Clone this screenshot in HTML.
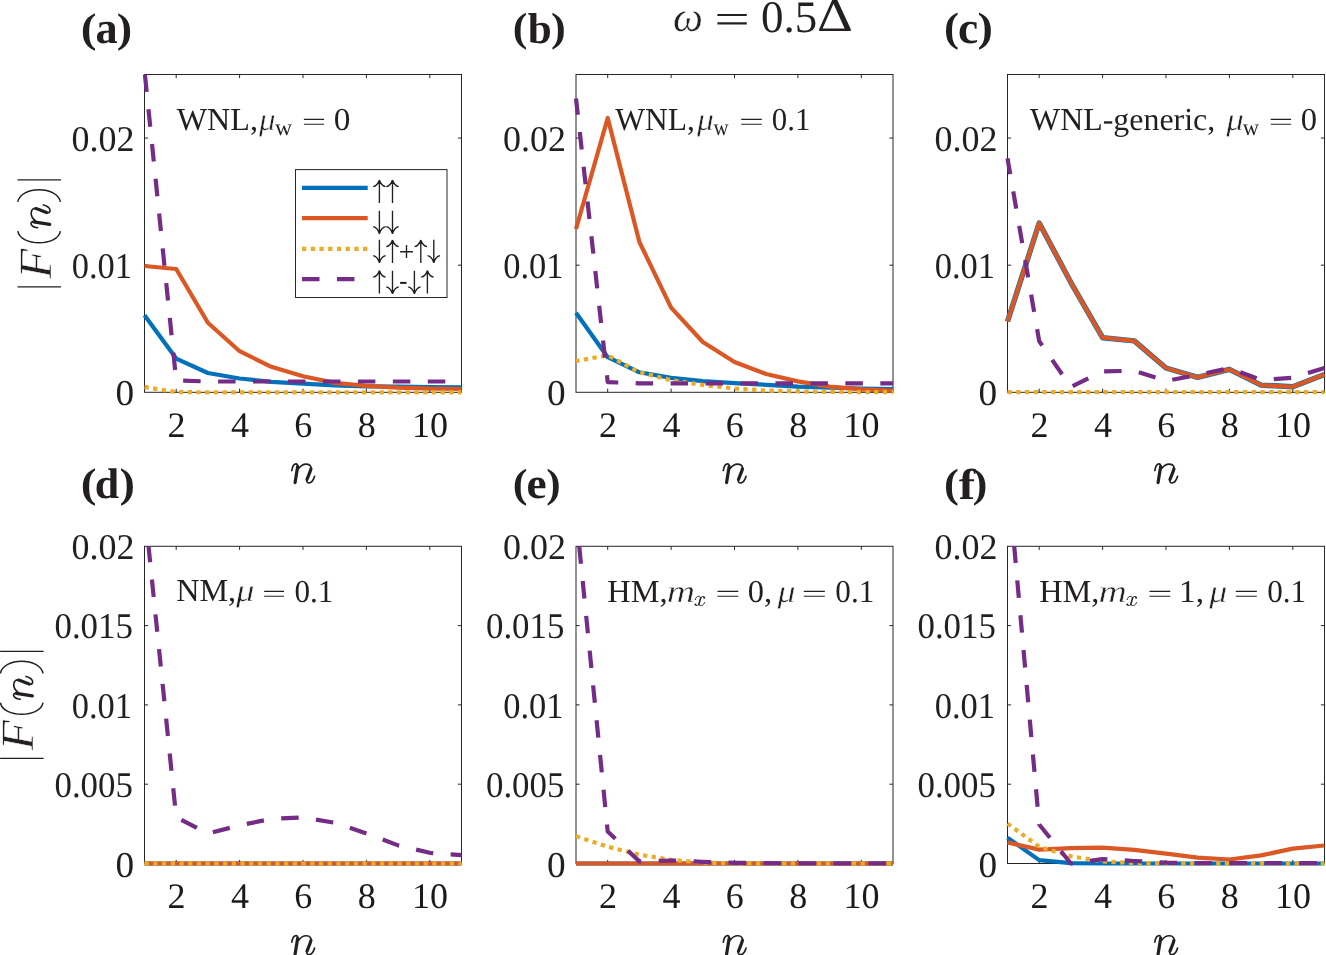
<!DOCTYPE html>
<html><head><meta charset="utf-8"><style>
html,body{margin:0;padding:0;background:#fff;}
body{width:1326px;height:955px;overflow:hidden;}
svg{display:block;will-change:transform;}
text{font-family:"Liberation Serif",serif;font-kerning:none;fill:#231f20;}
.tk{font-size:36px;fill:#1a1a1a;}
</style></head><body>
<svg width="1326" height="955" viewBox="0 0 1326 955" text-rendering="geometricPrecision">
<rect width="1326" height="955" fill="#fff"/>
<rect x="144.50" y="74.50" width="317.00" height="317.80" fill="none" stroke="#262626" stroke-width="1"/>
<line x1="176.20" y1="392.30" x2="176.20" y2="388.70" stroke="#262626" stroke-width="1"/>
<line x1="176.20" y1="74.50" x2="176.20" y2="78.10" stroke="#262626" stroke-width="1"/>
<text x="176.50" y="436.90" class="tk" text-anchor="middle">2</text>
<line x1="239.60" y1="392.30" x2="239.60" y2="388.70" stroke="#262626" stroke-width="1"/>
<line x1="239.60" y1="74.50" x2="239.60" y2="78.10" stroke="#262626" stroke-width="1"/>
<text x="239.90" y="436.90" class="tk" text-anchor="middle">4</text>
<line x1="303.00" y1="392.30" x2="303.00" y2="388.70" stroke="#262626" stroke-width="1"/>
<line x1="303.00" y1="74.50" x2="303.00" y2="78.10" stroke="#262626" stroke-width="1"/>
<text x="303.30" y="436.90" class="tk" text-anchor="middle">6</text>
<line x1="366.40" y1="392.30" x2="366.40" y2="388.70" stroke="#262626" stroke-width="1"/>
<line x1="366.40" y1="74.50" x2="366.40" y2="78.10" stroke="#262626" stroke-width="1"/>
<text x="366.70" y="436.90" class="tk" text-anchor="middle">8</text>
<line x1="429.80" y1="392.30" x2="429.80" y2="388.70" stroke="#262626" stroke-width="1"/>
<line x1="429.80" y1="74.50" x2="429.80" y2="78.10" stroke="#262626" stroke-width="1"/>
<text x="430.10" y="436.90" class="tk" text-anchor="middle">10</text>
<text transform="matrix(1.0355 0 0 1.0126 115.58 405.34)" font-size="36" fill="#231f20">0</text>
<line x1="144.50" y1="265.18" x2="148.10" y2="265.18" stroke="#262626" stroke-width="1"/>
<line x1="461.50" y1="265.18" x2="457.90" y2="265.18" stroke="#262626" stroke-width="1"/>
<text transform="matrix(0.9568 0 0 1.0061 71.79 278.07)" font-size="36" fill="#231f20">0.01</text>
<line x1="144.50" y1="138.06" x2="148.10" y2="138.06" stroke="#262626" stroke-width="1"/>
<line x1="461.50" y1="138.06" x2="457.90" y2="138.06" stroke="#262626" stroke-width="1"/>
<text transform="matrix(0.9993 0 0 1.0061 71.53 150.95)" font-size="36" fill="#231f20">0.02</text>
<polyline points="144.50,315.30 176.20,358.60 207.90,373.00 239.60,378.50 271.30,381.80 303.00,383.60 334.70,385.40 366.40,386.30 398.10,386.70 429.80,387.00 461.50,387.30" stroke="#0071BA" stroke-width="4.20" fill="none" stroke-linejoin="round"/>
<polyline points="144.50,266.00 176.20,269.00 207.90,322.80 239.60,351.20 271.30,366.80 303.00,376.20 334.70,382.90 366.40,385.90 398.10,387.70 429.80,388.60 461.50,389.00" stroke="#DB5724" stroke-width="4.20" fill="none" stroke-linejoin="round"/>
<polyline points="144.50,387.00 176.20,392.10 207.90,392.30 239.60,392.30 271.30,392.30 303.00,392.30 334.70,392.30 366.40,392.30 398.10,392.30 429.80,392.30 461.50,392.30" stroke="#ECAD26" stroke-width="4.20" fill="none" stroke-dasharray="4.3 4.42" stroke-linejoin="round"/>
<polyline points="144.91,74.50 176.20,380.50 207.90,381.50 239.60,381.50 271.30,381.50 303.00,381.50 334.70,381.50 366.40,381.50 398.10,381.50 429.80,381.50 461.50,381.50" stroke="#742C86" stroke-width="4.20" fill="none" stroke-dasharray="17.5 17.45" stroke-linejoin="round"/>
<g transform="translate(291.00,463.30)"><path d="M0.79 7.23 C1.26 4.24 2.36 0.94 4.71 0.63 C6.44 0.47 6.91 2.04 6.60 3.77 M7.70 5.18 C9.74 2.36 12.57 0.63 15.55 0.79 C19.16 0.94 20.58 3.30 19.95 5.81 M15.96 16.18 C15.24 18.69 16.65 19.79 18.38 19.64 C20.74 19.32 22.62 16.49 23.56 13.04" stroke="#231f20" stroke-width="1.65" fill="none" stroke-linecap="round"/><path d="M6.66 3.30 L4.08 19.32 M19.95 5.50 C19.16 8.95 16.97 13.35 15.96 16.18" stroke="#231f20" stroke-width="3.2" fill="none" stroke-linecap="round"/></g>
<rect x="576.00" y="74.50" width="317.00" height="317.80" fill="none" stroke="#262626" stroke-width="1"/>
<line x1="607.70" y1="392.30" x2="607.70" y2="388.70" stroke="#262626" stroke-width="1"/>
<line x1="607.70" y1="74.50" x2="607.70" y2="78.10" stroke="#262626" stroke-width="1"/>
<text x="608.00" y="436.90" class="tk" text-anchor="middle">2</text>
<line x1="671.10" y1="392.30" x2="671.10" y2="388.70" stroke="#262626" stroke-width="1"/>
<line x1="671.10" y1="74.50" x2="671.10" y2="78.10" stroke="#262626" stroke-width="1"/>
<text x="671.40" y="436.90" class="tk" text-anchor="middle">4</text>
<line x1="734.50" y1="392.30" x2="734.50" y2="388.70" stroke="#262626" stroke-width="1"/>
<line x1="734.50" y1="74.50" x2="734.50" y2="78.10" stroke="#262626" stroke-width="1"/>
<text x="734.80" y="436.90" class="tk" text-anchor="middle">6</text>
<line x1="797.90" y1="392.30" x2="797.90" y2="388.70" stroke="#262626" stroke-width="1"/>
<line x1="797.90" y1="74.50" x2="797.90" y2="78.10" stroke="#262626" stroke-width="1"/>
<text x="798.20" y="436.90" class="tk" text-anchor="middle">8</text>
<line x1="861.30" y1="392.30" x2="861.30" y2="388.70" stroke="#262626" stroke-width="1"/>
<line x1="861.30" y1="74.50" x2="861.30" y2="78.10" stroke="#262626" stroke-width="1"/>
<text x="861.60" y="436.90" class="tk" text-anchor="middle">10</text>
<text transform="matrix(1.0355 0 0 1.0126 547.08 405.34)" font-size="36" fill="#231f20">0</text>
<line x1="576.00" y1="265.18" x2="579.60" y2="265.18" stroke="#262626" stroke-width="1"/>
<line x1="893.00" y1="265.18" x2="889.40" y2="265.18" stroke="#262626" stroke-width="1"/>
<text transform="matrix(0.9568 0 0 1.0061 503.29 278.07)" font-size="36" fill="#231f20">0.01</text>
<line x1="576.00" y1="138.06" x2="579.60" y2="138.06" stroke="#262626" stroke-width="1"/>
<line x1="893.00" y1="138.06" x2="889.40" y2="138.06" stroke="#262626" stroke-width="1"/>
<text transform="matrix(0.9993 0 0 1.0061 503.03 150.95)" font-size="36" fill="#231f20">0.02</text>
<polyline points="576.00,312.70 607.70,357.20 639.40,372.30 671.10,377.90 702.80,381.10 734.50,383.10 766.20,384.80 797.90,386.60 829.60,387.60 861.30,388.50 893.00,389.20" stroke="#0071BA" stroke-width="4.20" fill="none" stroke-linejoin="round"/>
<polyline points="576.00,229.00 607.70,118.00 639.40,242.00 671.10,307.60 702.80,342.00 734.50,362.00 766.20,374.00 797.90,381.40 829.60,386.60 861.30,389.30 893.00,390.70" stroke="#DB5724" stroke-width="4.20" fill="none" stroke-linejoin="round"/>
<polyline points="576.00,361.00 607.70,355.30 639.40,372.30 671.10,380.20 702.80,384.90 734.50,388.50 766.20,390.60 797.90,391.50 829.60,391.90 861.30,392.10 893.00,392.20" stroke="#ECAD26" stroke-width="4.20" fill="none" stroke-dasharray="4.3 4.42" stroke-linejoin="round" stroke-dashoffset="0.70"/>
<polyline points="576.00,98.50 607.70,382.10 639.40,383.30 671.10,383.30 702.80,383.30 734.50,383.30 766.20,383.30 797.90,383.30 829.60,383.30 861.30,383.30 893.00,383.30" stroke="#742C86" stroke-width="4.20" fill="none" stroke-dasharray="17.5 17.45" stroke-linejoin="round" stroke-dashoffset="1.20"/>
<g transform="translate(722.50,463.30)"><path d="M0.79 7.23 C1.26 4.24 2.36 0.94 4.71 0.63 C6.44 0.47 6.91 2.04 6.60 3.77 M7.70 5.18 C9.74 2.36 12.57 0.63 15.55 0.79 C19.16 0.94 20.58 3.30 19.95 5.81 M15.96 16.18 C15.24 18.69 16.65 19.79 18.38 19.64 C20.74 19.32 22.62 16.49 23.56 13.04" stroke="#231f20" stroke-width="1.65" fill="none" stroke-linecap="round"/><path d="M6.66 3.30 L4.08 19.32 M19.95 5.50 C19.16 8.95 16.97 13.35 15.96 16.18" stroke="#231f20" stroke-width="3.2" fill="none" stroke-linecap="round"/></g>
<rect x="1007.50" y="74.50" width="317.00" height="317.80" fill="none" stroke="#262626" stroke-width="1"/>
<line x1="1039.20" y1="392.30" x2="1039.20" y2="388.70" stroke="#262626" stroke-width="1"/>
<line x1="1039.20" y1="74.50" x2="1039.20" y2="78.10" stroke="#262626" stroke-width="1"/>
<text x="1039.50" y="436.90" class="tk" text-anchor="middle">2</text>
<line x1="1102.60" y1="392.30" x2="1102.60" y2="388.70" stroke="#262626" stroke-width="1"/>
<line x1="1102.60" y1="74.50" x2="1102.60" y2="78.10" stroke="#262626" stroke-width="1"/>
<text x="1102.90" y="436.90" class="tk" text-anchor="middle">4</text>
<line x1="1166.00" y1="392.30" x2="1166.00" y2="388.70" stroke="#262626" stroke-width="1"/>
<line x1="1166.00" y1="74.50" x2="1166.00" y2="78.10" stroke="#262626" stroke-width="1"/>
<text x="1166.30" y="436.90" class="tk" text-anchor="middle">6</text>
<line x1="1229.40" y1="392.30" x2="1229.40" y2="388.70" stroke="#262626" stroke-width="1"/>
<line x1="1229.40" y1="74.50" x2="1229.40" y2="78.10" stroke="#262626" stroke-width="1"/>
<text x="1229.70" y="436.90" class="tk" text-anchor="middle">8</text>
<line x1="1292.80" y1="392.30" x2="1292.80" y2="388.70" stroke="#262626" stroke-width="1"/>
<line x1="1292.80" y1="74.50" x2="1292.80" y2="78.10" stroke="#262626" stroke-width="1"/>
<text x="1293.10" y="436.90" class="tk" text-anchor="middle">10</text>
<text transform="matrix(1.0355 0 0 1.0126 978.58 405.34)" font-size="36" fill="#231f20">0</text>
<line x1="1007.50" y1="265.18" x2="1011.10" y2="265.18" stroke="#262626" stroke-width="1"/>
<line x1="1324.50" y1="265.18" x2="1320.90" y2="265.18" stroke="#262626" stroke-width="1"/>
<text transform="matrix(0.9568 0 0 1.0061 934.79 278.07)" font-size="36" fill="#231f20">0.01</text>
<line x1="1007.50" y1="138.06" x2="1011.10" y2="138.06" stroke="#262626" stroke-width="1"/>
<line x1="1324.50" y1="138.06" x2="1320.90" y2="138.06" stroke="#262626" stroke-width="1"/>
<text transform="matrix(0.9993 0 0 1.0061 934.53 150.95)" font-size="36" fill="#231f20">0.02</text>
<polyline points="1007.50,321.50 1039.20,223.00 1070.90,282.60 1102.60,337.70 1134.30,340.90 1166.00,368.00 1197.70,377.40 1229.40,369.30 1261.10,385.10 1292.80,386.80 1324.50,374.50" stroke="#0071BA" stroke-width="5.40" fill="none" stroke-linejoin="round"/>
<polyline points="1007.50,321.50 1039.20,223.00 1070.90,282.60 1102.60,337.70 1134.30,340.90 1166.00,368.00 1197.70,377.40 1229.40,369.30 1261.10,385.10 1292.80,386.80 1324.50,374.50" stroke="#DB5724" stroke-width="4.20" fill="none" stroke-linejoin="round"/>
<polyline points="1007.50,392.20 1039.20,392.20 1070.90,392.20 1102.60,392.20 1134.30,392.20 1166.00,392.20 1197.70,392.20 1229.40,392.20 1261.10,392.20 1292.80,392.20 1324.50,392.20" stroke="#ECAD26" stroke-width="4.20" fill="none" stroke-dasharray="4.3 4.42" stroke-linejoin="round"/>
<polyline points="1007.50,158.30 1039.20,341.10 1070.90,387.00 1102.60,371.30 1134.30,370.80 1166.00,381.00 1197.70,374.90 1229.40,368.10 1261.10,380.00 1292.80,377.70 1324.50,367.90" stroke="#742C86" stroke-width="4.20" fill="none" stroke-dasharray="17.5 17.45" stroke-linejoin="round" stroke-dashoffset="1.40"/>
<g transform="translate(1154.00,463.30)"><path d="M0.79 7.23 C1.26 4.24 2.36 0.94 4.71 0.63 C6.44 0.47 6.91 2.04 6.60 3.77 M7.70 5.18 C9.74 2.36 12.57 0.63 15.55 0.79 C19.16 0.94 20.58 3.30 19.95 5.81 M15.96 16.18 C15.24 18.69 16.65 19.79 18.38 19.64 C20.74 19.32 22.62 16.49 23.56 13.04" stroke="#231f20" stroke-width="1.65" fill="none" stroke-linecap="round"/><path d="M6.66 3.30 L4.08 19.32 M19.95 5.50 C19.16 8.95 16.97 13.35 15.96 16.18" stroke="#231f20" stroke-width="3.2" fill="none" stroke-linecap="round"/></g>
<rect x="144.50" y="546.30" width="317.00" height="317.20" fill="none" stroke="#262626" stroke-width="1"/>
<line x1="176.20" y1="863.50" x2="176.20" y2="859.90" stroke="#262626" stroke-width="1"/>
<line x1="176.20" y1="546.30" x2="176.20" y2="549.90" stroke="#262626" stroke-width="1"/>
<text x="176.50" y="908.10" class="tk" text-anchor="middle">2</text>
<line x1="239.60" y1="863.50" x2="239.60" y2="859.90" stroke="#262626" stroke-width="1"/>
<line x1="239.60" y1="546.30" x2="239.60" y2="549.90" stroke="#262626" stroke-width="1"/>
<text x="239.90" y="908.10" class="tk" text-anchor="middle">4</text>
<line x1="303.00" y1="863.50" x2="303.00" y2="859.90" stroke="#262626" stroke-width="1"/>
<line x1="303.00" y1="546.30" x2="303.00" y2="549.90" stroke="#262626" stroke-width="1"/>
<text x="303.30" y="908.10" class="tk" text-anchor="middle">6</text>
<line x1="366.40" y1="863.50" x2="366.40" y2="859.90" stroke="#262626" stroke-width="1"/>
<line x1="366.40" y1="546.30" x2="366.40" y2="549.90" stroke="#262626" stroke-width="1"/>
<text x="366.70" y="908.10" class="tk" text-anchor="middle">8</text>
<line x1="429.80" y1="863.50" x2="429.80" y2="859.90" stroke="#262626" stroke-width="1"/>
<line x1="429.80" y1="546.30" x2="429.80" y2="549.90" stroke="#262626" stroke-width="1"/>
<text x="430.10" y="908.10" class="tk" text-anchor="middle">10</text>
<text transform="matrix(1.0355 0 0 1.0126 115.58 876.54)" font-size="36" fill="#231f20">0</text>
<line x1="144.50" y1="784.20" x2="148.10" y2="784.20" stroke="#262626" stroke-width="1"/>
<line x1="461.50" y1="784.20" x2="457.90" y2="784.20" stroke="#262626" stroke-width="1"/>
<text transform="matrix(0.9678 0 0 1.0061 54.47 797.09)" font-size="36" fill="#231f20">0.005</text>
<line x1="144.50" y1="704.90" x2="148.10" y2="704.90" stroke="#262626" stroke-width="1"/>
<line x1="461.50" y1="704.90" x2="457.90" y2="704.90" stroke="#262626" stroke-width="1"/>
<text transform="matrix(0.9568 0 0 1.0061 71.79 717.79)" font-size="36" fill="#231f20">0.01</text>
<line x1="144.50" y1="625.60" x2="148.10" y2="625.60" stroke="#262626" stroke-width="1"/>
<line x1="461.50" y1="625.60" x2="457.90" y2="625.60" stroke="#262626" stroke-width="1"/>
<text transform="matrix(0.9678 0 0 1.0061 54.47 638.49)" font-size="36" fill="#231f20">0.015</text>
<text transform="matrix(0.9993 0 0 1.0061 71.53 559.19)" font-size="36" fill="#231f20">0.02</text>
<polyline points="144.50,863.50 176.20,863.50 207.90,863.50 239.60,863.50 271.30,863.50 303.00,863.50 334.70,863.50 366.40,863.50 398.10,863.50 429.80,863.50 461.50,863.50" stroke="#0071BA" stroke-width="4.20" fill="none" stroke-linejoin="round"/>
<polyline points="144.50,863.50 176.20,863.50 207.90,863.50 239.60,863.50 271.30,863.50 303.00,863.50 334.70,863.50 366.40,863.50 398.10,863.50 429.80,863.50 461.50,863.50" stroke="#DB5724" stroke-width="4.20" fill="none" stroke-linejoin="round"/>
<polyline points="144.50,863.50 176.20,863.50 207.90,863.50 239.60,863.50 271.30,863.50 303.00,863.50 334.70,863.50 366.40,863.50 398.10,863.50 429.80,863.50 461.50,863.50" stroke="#ECAD26" stroke-width="4.20" fill="none" stroke-dasharray="4.3 4.42" stroke-linejoin="round"/>
<polyline points="148.52,546.30 176.20,817.20 207.90,833.50 239.60,825.40 271.30,818.90 303.00,817.50 334.70,822.70 366.40,833.40 398.10,845.40 429.80,852.80 461.50,855.10" stroke="#742C86" stroke-width="4.20" fill="none" stroke-dasharray="17.5 17.45" stroke-linejoin="round" stroke-dashoffset="1.50"/>
<g transform="translate(291.00,935.00)"><path d="M0.79 7.23 C1.26 4.24 2.36 0.94 4.71 0.63 C6.44 0.47 6.91 2.04 6.60 3.77 M7.70 5.18 C9.74 2.36 12.57 0.63 15.55 0.79 C19.16 0.94 20.58 3.30 19.95 5.81 M15.96 16.18 C15.24 18.69 16.65 19.79 18.38 19.64 C20.74 19.32 22.62 16.49 23.56 13.04" stroke="#231f20" stroke-width="1.65" fill="none" stroke-linecap="round"/><path d="M6.66 3.30 L4.08 19.32 M19.95 5.50 C19.16 8.95 16.97 13.35 15.96 16.18" stroke="#231f20" stroke-width="3.2" fill="none" stroke-linecap="round"/></g>
<rect x="576.00" y="546.30" width="317.00" height="317.20" fill="none" stroke="#262626" stroke-width="1"/>
<line x1="607.70" y1="863.50" x2="607.70" y2="859.90" stroke="#262626" stroke-width="1"/>
<line x1="607.70" y1="546.30" x2="607.70" y2="549.90" stroke="#262626" stroke-width="1"/>
<text x="608.00" y="908.10" class="tk" text-anchor="middle">2</text>
<line x1="671.10" y1="863.50" x2="671.10" y2="859.90" stroke="#262626" stroke-width="1"/>
<line x1="671.10" y1="546.30" x2="671.10" y2="549.90" stroke="#262626" stroke-width="1"/>
<text x="671.40" y="908.10" class="tk" text-anchor="middle">4</text>
<line x1="734.50" y1="863.50" x2="734.50" y2="859.90" stroke="#262626" stroke-width="1"/>
<line x1="734.50" y1="546.30" x2="734.50" y2="549.90" stroke="#262626" stroke-width="1"/>
<text x="734.80" y="908.10" class="tk" text-anchor="middle">6</text>
<line x1="797.90" y1="863.50" x2="797.90" y2="859.90" stroke="#262626" stroke-width="1"/>
<line x1="797.90" y1="546.30" x2="797.90" y2="549.90" stroke="#262626" stroke-width="1"/>
<text x="798.20" y="908.10" class="tk" text-anchor="middle">8</text>
<line x1="861.30" y1="863.50" x2="861.30" y2="859.90" stroke="#262626" stroke-width="1"/>
<line x1="861.30" y1="546.30" x2="861.30" y2="549.90" stroke="#262626" stroke-width="1"/>
<text x="861.60" y="908.10" class="tk" text-anchor="middle">10</text>
<text transform="matrix(1.0355 0 0 1.0126 547.08 876.54)" font-size="36" fill="#231f20">0</text>
<line x1="576.00" y1="784.20" x2="579.60" y2="784.20" stroke="#262626" stroke-width="1"/>
<line x1="893.00" y1="784.20" x2="889.40" y2="784.20" stroke="#262626" stroke-width="1"/>
<text transform="matrix(0.9678 0 0 1.0061 485.97 797.09)" font-size="36" fill="#231f20">0.005</text>
<line x1="576.00" y1="704.90" x2="579.60" y2="704.90" stroke="#262626" stroke-width="1"/>
<line x1="893.00" y1="704.90" x2="889.40" y2="704.90" stroke="#262626" stroke-width="1"/>
<text transform="matrix(0.9568 0 0 1.0061 503.29 717.79)" font-size="36" fill="#231f20">0.01</text>
<line x1="576.00" y1="625.60" x2="579.60" y2="625.60" stroke="#262626" stroke-width="1"/>
<line x1="893.00" y1="625.60" x2="889.40" y2="625.60" stroke="#262626" stroke-width="1"/>
<text transform="matrix(0.9678 0 0 1.0061 485.97 638.49)" font-size="36" fill="#231f20">0.015</text>
<text transform="matrix(0.9993 0 0 1.0061 503.03 559.19)" font-size="36" fill="#231f20">0.02</text>
<polyline points="576.00,863.50 607.70,863.50 639.40,863.50 671.10,863.50 702.80,863.50 734.50,863.50 766.20,863.50 797.90,863.50 829.60,863.50 861.30,863.50 893.00,863.50" stroke="#0071BA" stroke-width="4.20" fill="none" stroke-linejoin="round"/>
<polyline points="576.00,863.50 607.70,863.50 639.40,863.50 671.10,863.50 702.80,863.50 734.50,863.50 766.20,863.50 797.90,863.50 829.60,863.50 861.30,863.50 893.00,863.50" stroke="#DB5724" stroke-width="4.20" fill="none" stroke-linejoin="round"/>
<polyline points="576.00,836.20 607.70,846.70 639.40,854.70 671.10,859.80 702.80,862.60 734.50,863.30 766.20,863.50 797.90,863.50 829.60,863.50 861.30,863.50 893.00,863.50" stroke="#ECAD26" stroke-width="4.20" fill="none" stroke-dasharray="4.3 4.42" stroke-linejoin="round"/>
<polyline points="579.22,546.30 607.70,831.50 639.40,861.40 671.10,860.50 702.80,861.80 734.50,862.80 766.20,863.20 797.90,863.30 829.60,863.30 861.30,863.30 893.00,863.30" stroke="#742C86" stroke-width="4.20" fill="none" stroke-dasharray="17.5 17.45" stroke-linejoin="round"/>
<g transform="translate(722.50,935.00)"><path d="M0.79 7.23 C1.26 4.24 2.36 0.94 4.71 0.63 C6.44 0.47 6.91 2.04 6.60 3.77 M7.70 5.18 C9.74 2.36 12.57 0.63 15.55 0.79 C19.16 0.94 20.58 3.30 19.95 5.81 M15.96 16.18 C15.24 18.69 16.65 19.79 18.38 19.64 C20.74 19.32 22.62 16.49 23.56 13.04" stroke="#231f20" stroke-width="1.65" fill="none" stroke-linecap="round"/><path d="M6.66 3.30 L4.08 19.32 M19.95 5.50 C19.16 8.95 16.97 13.35 15.96 16.18" stroke="#231f20" stroke-width="3.2" fill="none" stroke-linecap="round"/></g>
<rect x="1007.50" y="546.30" width="317.00" height="317.20" fill="none" stroke="#262626" stroke-width="1"/>
<line x1="1039.20" y1="863.50" x2="1039.20" y2="859.90" stroke="#262626" stroke-width="1"/>
<line x1="1039.20" y1="546.30" x2="1039.20" y2="549.90" stroke="#262626" stroke-width="1"/>
<text x="1039.50" y="908.10" class="tk" text-anchor="middle">2</text>
<line x1="1102.60" y1="863.50" x2="1102.60" y2="859.90" stroke="#262626" stroke-width="1"/>
<line x1="1102.60" y1="546.30" x2="1102.60" y2="549.90" stroke="#262626" stroke-width="1"/>
<text x="1102.90" y="908.10" class="tk" text-anchor="middle">4</text>
<line x1="1166.00" y1="863.50" x2="1166.00" y2="859.90" stroke="#262626" stroke-width="1"/>
<line x1="1166.00" y1="546.30" x2="1166.00" y2="549.90" stroke="#262626" stroke-width="1"/>
<text x="1166.30" y="908.10" class="tk" text-anchor="middle">6</text>
<line x1="1229.40" y1="863.50" x2="1229.40" y2="859.90" stroke="#262626" stroke-width="1"/>
<line x1="1229.40" y1="546.30" x2="1229.40" y2="549.90" stroke="#262626" stroke-width="1"/>
<text x="1229.70" y="908.10" class="tk" text-anchor="middle">8</text>
<line x1="1292.80" y1="863.50" x2="1292.80" y2="859.90" stroke="#262626" stroke-width="1"/>
<line x1="1292.80" y1="546.30" x2="1292.80" y2="549.90" stroke="#262626" stroke-width="1"/>
<text x="1293.10" y="908.10" class="tk" text-anchor="middle">10</text>
<text transform="matrix(1.0355 0 0 1.0126 978.58 876.54)" font-size="36" fill="#231f20">0</text>
<line x1="1007.50" y1="784.20" x2="1011.10" y2="784.20" stroke="#262626" stroke-width="1"/>
<line x1="1324.50" y1="784.20" x2="1320.90" y2="784.20" stroke="#262626" stroke-width="1"/>
<text transform="matrix(0.9678 0 0 1.0061 917.47 797.09)" font-size="36" fill="#231f20">0.005</text>
<line x1="1007.50" y1="704.90" x2="1011.10" y2="704.90" stroke="#262626" stroke-width="1"/>
<line x1="1324.50" y1="704.90" x2="1320.90" y2="704.90" stroke="#262626" stroke-width="1"/>
<text transform="matrix(0.9568 0 0 1.0061 934.79 717.79)" font-size="36" fill="#231f20">0.01</text>
<line x1="1007.50" y1="625.60" x2="1011.10" y2="625.60" stroke="#262626" stroke-width="1"/>
<line x1="1324.50" y1="625.60" x2="1320.90" y2="625.60" stroke="#262626" stroke-width="1"/>
<text transform="matrix(0.9678 0 0 1.0061 917.47 638.49)" font-size="36" fill="#231f20">0.015</text>
<text transform="matrix(0.9993 0 0 1.0061 934.53 559.19)" font-size="36" fill="#231f20">0.02</text>
<polyline points="1007.50,837.70 1039.20,860.10 1070.90,863.10 1102.60,863.50 1134.30,863.50 1166.00,863.50 1197.70,863.50 1229.40,863.50 1261.10,863.50 1292.80,863.50 1324.50,863.50" stroke="#0071BA" stroke-width="4.20" fill="none" stroke-linejoin="round"/>
<polyline points="1007.50,842.40 1039.20,849.60 1070.90,848.20 1102.60,847.60 1134.30,849.90 1166.00,853.60 1197.70,857.70 1229.40,859.50 1261.10,855.40 1292.80,848.60 1324.50,845.50" stroke="#DB5724" stroke-width="4.20" fill="none" stroke-linejoin="round"/>
<polyline points="1007.50,823.60 1039.20,846.70 1070.90,856.30 1102.60,861.40 1134.30,863.00 1166.00,863.40 1197.70,863.50 1229.40,863.50 1261.10,863.50 1292.80,863.50 1324.50,863.50" stroke="#ECAD26" stroke-width="4.20" fill="none" stroke-dasharray="4.3 4.42" stroke-linejoin="round"/>
<polyline points="1014.20,546.30 1039.20,824.50 1070.90,863.50 1102.60,859.20 1134.30,861.00 1166.00,862.70 1197.70,863.10 1229.40,863.10 1261.10,863.10 1292.80,863.10 1324.50,863.10" stroke="#742C86" stroke-width="4.20" fill="none" stroke-dasharray="17.5 17.45" stroke-linejoin="round" stroke-dashoffset="0.70"/>
<g transform="translate(1154.00,935.00)"><path d="M0.79 7.23 C1.26 4.24 2.36 0.94 4.71 0.63 C6.44 0.47 6.91 2.04 6.60 3.77 M7.70 5.18 C9.74 2.36 12.57 0.63 15.55 0.79 C19.16 0.94 20.58 3.30 19.95 5.81 M15.96 16.18 C15.24 18.69 16.65 19.79 18.38 19.64 C20.74 19.32 22.62 16.49 23.56 13.04" stroke="#231f20" stroke-width="1.65" fill="none" stroke-linecap="round"/><path d="M6.66 3.30 L4.08 19.32 M19.95 5.50 C19.16 8.95 16.97 13.35 15.96 16.18" stroke="#231f20" stroke-width="3.2" fill="none" stroke-linecap="round"/></g>
<text transform="matrix(1.1586 0 0 1.0141 80.81 41.55)" font-size="41" font-weight="bold" fill="#231f20">(</text>
<text transform="matrix(1.0831 0 0 1.0998 95.47 43.06)" font-size="41" font-weight="bold" fill="#231f20">a</text>
<text transform="matrix(1.1301 0 0 1.0141 116.81 41.55)" font-size="41" font-weight="bold" fill="#231f20">)</text>
<text transform="matrix(1.0731 0 0 0.9953 512.87 41.21)" font-size="41" font-weight="bold" fill="#231f20">(</text>
<text transform="matrix(1.0524 0 0 1.0538 527.65 42.88)" font-size="41" font-weight="bold" fill="#231f20">b</text>
<text transform="matrix(1.0826 0 0 0.9953 551.07 41.21)" font-size="41" font-weight="bold" fill="#231f20">)</text>
<text transform="matrix(1.1016 0 0 1.0060 943.92 41.32)" font-size="41" font-weight="bold" fill="#231f20">(</text>
<text transform="matrix(1.1093 0 0 1.0965 958.05 43.08)" font-size="41" font-weight="bold" fill="#231f20">c</text>
<text transform="matrix(1.1301 0 0 1.0060 977.41 41.32)" font-size="41" font-weight="bold" fill="#231f20">)</text>
<text transform="matrix(1.1586 0 0 1.0141 80.81 497.05)" font-size="41" font-weight="bold" fill="#231f20">(</text>
<text transform="matrix(1.0735 0 0 1.0434 94.82 498.38)" font-size="41" font-weight="bold" fill="#231f20">d</text>
<text transform="matrix(1.1301 0 0 1.0141 119.41 497.05)" font-size="41" font-weight="bold" fill="#231f20">)</text>
<text transform="matrix(1.0826 0 0 0.9979 512.85 496.79)" font-size="41" font-weight="bold" fill="#231f20">(</text>
<text transform="matrix(1.1058 0 0 1.0580 526.55 498.20)" font-size="41" font-weight="bold" fill="#231f20">e</text>
<text transform="matrix(1.0541 0 0 0.9979 546.31 496.79)" font-size="41" font-weight="bold" fill="#231f20">)</text>
<text transform="matrix(1.0921 0 0 0.9979 944.03 496.79)" font-size="41" font-weight="bold" fill="#231f20">(</text>
<text transform="matrix(1.1997 0 0 1.0565 958.64 498.60)" font-size="41" font-weight="bold" fill="#231f20">f</text>
<text transform="matrix(1.0921 0 0 0.9979 972.56 496.79)" font-size="41" font-weight="bold" fill="#231f20">)</text>
<g transform="translate(0.00,0) rotate(-90)">
</g><path d="M17.50 286.80 H61.00" stroke="#231f20" stroke-width="1.35"/><g transform="translate(0.00,0) rotate(-90)">
<text stroke="#fff" stroke-width="0.5" transform="matrix(1.1136 0 0 1.0517 -278.54 50.50)" font-size="44" font-style="italic" fill="#231f20">F</text>
</g><path d="M17.80 231.20 C20.36 246.67 57.84 246.67 60.40 231.20" stroke="#231f20" stroke-width="1.45" fill="none"/><g transform="translate(0.00,0) rotate(-90)">
</g><g transform="translate(30.40,228.50) rotate(-90)"><path d="M0.79 7.23 C1.26 4.24 2.36 0.94 4.71 0.63 C6.44 0.47 6.91 2.04 6.60 3.77 M7.70 5.18 C9.74 2.36 12.57 0.63 15.55 0.79 C19.16 0.94 20.58 3.30 19.95 5.81 M15.96 16.18 C15.24 18.69 16.65 19.79 18.38 19.64 C20.74 19.32 22.62 16.49 23.56 13.04" stroke="#231f20" stroke-width="1.65" fill="none" stroke-linecap="round"/><path d="M6.66 3.30 L4.08 19.32 M19.95 5.50 C19.16 8.95 16.97 13.35 15.96 16.18" stroke="#231f20" stroke-width="3.2" fill="none" stroke-linecap="round"/></g><g transform="translate(0.00,0) rotate(-90)">
</g><path d="M17.80 202.00 C20.36 185.60 57.84 185.60 60.40 202.00" stroke="#231f20" stroke-width="1.45" fill="none"/><g transform="translate(0.00,0) rotate(-90)">
</g><path d="M17.50 179.80 H61.00" stroke="#231f20" stroke-width="1.35"/><g transform="translate(0.00,0) rotate(-90)">
</g>
<g transform="translate(-17.40,0) rotate(-90)">
</g><path d="M0.10 758.30 H43.60" stroke="#231f20" stroke-width="1.35"/><g transform="translate(-17.40,0) rotate(-90)">
<text stroke="#fff" stroke-width="0.5" transform="matrix(1.1136 0 0 1.0517 -750.04 50.50)" font-size="44" font-style="italic" fill="#231f20">F</text>
</g><path d="M0.40 702.70 C2.96 718.17 40.44 718.17 43.00 702.70" stroke="#231f20" stroke-width="1.45" fill="none"/><g transform="translate(-17.40,0) rotate(-90)">
</g><g transform="translate(13.00,700.00) rotate(-90)"><path d="M0.79 7.23 C1.26 4.24 2.36 0.94 4.71 0.63 C6.44 0.47 6.91 2.04 6.60 3.77 M7.70 5.18 C9.74 2.36 12.57 0.63 15.55 0.79 C19.16 0.94 20.58 3.30 19.95 5.81 M15.96 16.18 C15.24 18.69 16.65 19.79 18.38 19.64 C20.74 19.32 22.62 16.49 23.56 13.04" stroke="#231f20" stroke-width="1.65" fill="none" stroke-linecap="round"/><path d="M6.66 3.30 L4.08 19.32 M19.95 5.50 C19.16 8.95 16.97 13.35 15.96 16.18" stroke="#231f20" stroke-width="3.2" fill="none" stroke-linecap="round"/></g><g transform="translate(-17.40,0) rotate(-90)">
</g><path d="M0.40 673.50 C2.96 657.10 40.44 657.10 43.00 673.50" stroke="#231f20" stroke-width="1.45" fill="none"/><g transform="translate(-17.40,0) rotate(-90)">
</g><path d="M0.10 651.30 H43.60" stroke="#231f20" stroke-width="1.35"/><g transform="translate(-17.40,0) rotate(-90)">
</g>
<text transform="matrix(0.9434 0 0 0.9474 672.89 31.28)" font-size="45" font-style="italic" fill="#231f20" stroke="#fff" stroke-width="0.45">ω</text>
<text transform="matrix(1.4040 0 0 0.9244 714.15 33.41)" font-size="45" fill="#231f20">=</text>
<text transform="matrix(1.0004 0 0 1.0012 760.89 31.76)" font-size="45" fill="#231f20">0.5</text>
<text transform="matrix(1.2416 0 0 1.0402 816.97 31.20)" font-size="45" fill="#231f20">Δ</text>
<text transform="matrix(1.0049 0 0 1.0000 176.77 130.20)" font-size="32" fill="#231f20">WNL,</text>
<text transform="matrix(1.0312 0 0 1.0000 259.03 130.20)" font-size="32" font-style="italic" fill="#231f20" stroke="#fff" stroke-width="0.45">μ</text>
<text transform="matrix(1.0312 0 0 1.0000 274.88 134.90)" font-size="23" fill="#231f20">w</text>
<text transform="matrix(1.3566 0 0 0.7750 301.74 130.33)" font-size="32" fill="#231f20">=</text>
<text transform="matrix(1.0396 0 0 1.0003 333.83 130.39)" font-size="32" fill="#231f20">0</text>
<text transform="matrix(0.9846 0 0 1.0000 615.27 130.10)" font-size="32" fill="#231f20">WNL,</text>
<text transform="matrix(1.0511 0 0 1.0000 696.93 130.10)" font-size="32" font-style="italic" fill="#231f20" stroke="#fff" stroke-width="0.45">μ</text>
<text transform="matrix(0.9098 0 0 1.0000 713.48 134.90)" font-size="23" fill="#231f20">w</text>
<text transform="matrix(1.3834 0 0 0.7750 739.00 130.33)" font-size="32" fill="#231f20">=</text>
<text transform="matrix(0.9658 0 0 0.9938 771.72 130.25)" font-size="32" fill="#231f20">0.1</text>
<text transform="matrix(0.9971 0 0 1.0000 1030.07 130.00)" font-size="32" fill="#231f20">WNL-generic,</text>
<text transform="matrix(1.0977 0 0 1.0000 1226.13 130.00)" font-size="32" font-style="italic" fill="#231f20" stroke="#fff" stroke-width="0.45">μ</text>
<text transform="matrix(0.9766 0 0 1.0000 1242.78 134.90)" font-size="23" fill="#231f20">w</text>
<text transform="matrix(1.3700 0 0 0.7750 1268.62 130.33)" font-size="32" fill="#231f20">=</text>
<text transform="matrix(1.0175 0 0 1.0003 1300.86 130.39)" font-size="32" fill="#231f20">0</text>
<text transform="matrix(1.0066 0 0 1.0000 176.17 601.40)" font-size="32" fill="#231f20">NM,</text>
<text transform="matrix(1.1509 0 0 1.0000 236.04 601.40)" font-size="32" font-style="italic" fill="#231f20" stroke="#fff" stroke-width="0.45">μ</text>
<text transform="matrix(1.3364 0 0 0.7750 262.07 601.63)" font-size="32" fill="#231f20">=</text>
<text transform="matrix(0.9740 0 0 0.9938 294.41 601.55)" font-size="32" fill="#231f20">0.1</text>
<text transform="matrix(1.0119 0 0 1.0000 607.27 601.50)" font-size="32" fill="#231f20">HM,</text>
<text transform="matrix(1.2276 0 0 1.0000 666.68 601.60)" font-size="32" font-style="italic" fill="#231f20" stroke="#fff" stroke-width="0.45">m</text>
<path d="M695.26 599.56 C695.74 597.57 697.00 596.41 698.36 596.37 C699.62 596.37 700.45 596.94 700.71 597.67 M700.71 597.67 C701.50 596.62 702.76 596.31 703.91 596.48 M698.82 604.48 C698.46 605.42 697.10 605.78 696.06 605.48 M698.82 604.48 C699.30 605.52 700.45 605.78 701.61 605.52 C703.18 605.11 704.22 603.85 704.54 602.59" stroke="#231f20" stroke-width="1.0" fill="none" stroke-linecap="round"/><path d="M700.71 597.67 L698.82 604.48" stroke="#231f20" stroke-width="1.55" fill="none" stroke-linecap="round"/><circle cx="704.22" cy="597.82" r="1.05" fill="#231f20"/><circle cx="695.47" cy="604.44" r="1.05" fill="#231f20"/>
<text transform="matrix(1.3969 0 0 0.7750 715.27 601.63)" font-size="32" fill="#231f20">=</text>
<text transform="matrix(1.0161 0 0 1.0000 747.66 601.80)" font-size="32" fill="#231f20">0,</text>
<text transform="matrix(1.1243 0 0 1.0000 777.44 601.50)" font-size="32" font-style="italic" fill="#231f20" stroke="#fff" stroke-width="0.45">μ</text>
<text transform="matrix(1.4170 0 0 0.7750 801.54 601.63)" font-size="32" fill="#231f20">=</text>
<text transform="matrix(0.9740 0 0 0.9938 835.31 601.55)" font-size="32" fill="#231f20">0.1</text>
<text transform="matrix(1.0119 0 0 1.0000 1039.17 601.50)" font-size="32" fill="#231f20">HM,</text>
<text transform="matrix(1.2276 0 0 1.0000 1098.58 601.60)" font-size="32" font-style="italic" fill="#231f20" stroke="#fff" stroke-width="0.45">m</text>
<path d="M1127.16 599.56 C1127.64 597.57 1128.90 596.41 1130.26 596.37 C1131.52 596.37 1132.35 596.94 1132.61 597.67 M1132.61 597.67 C1133.40 596.62 1134.66 596.31 1135.81 596.48 M1130.72 604.48 C1130.36 605.42 1129.00 605.78 1127.96 605.48 M1130.72 604.48 C1131.20 605.52 1132.35 605.78 1133.51 605.52 C1135.08 605.11 1136.12 603.85 1136.44 602.59" stroke="#231f20" stroke-width="1.0" fill="none" stroke-linecap="round"/><path d="M1132.61 597.67 L1130.72 604.48" stroke="#231f20" stroke-width="1.55" fill="none" stroke-linecap="round"/><circle cx="1136.12" cy="597.82" r="1.05" fill="#231f20"/><circle cx="1127.37" cy="604.44" r="1.05" fill="#231f20"/>
<text transform="matrix(1.3969 0 0 0.7750 1147.17 601.63)" font-size="32" fill="#231f20">=</text>
<text transform="matrix(1.0380 0 0 1.0000 1179.08 601.80)" font-size="32" fill="#231f20">1,</text>
<text transform="matrix(1.1243 0 0 1.0000 1209.34 601.50)" font-size="32" font-style="italic" fill="#231f20" stroke="#fff" stroke-width="0.45">μ</text>
<text transform="matrix(1.4170 0 0 0.7750 1233.44 601.63)" font-size="32" fill="#231f20">=</text>
<text transform="matrix(0.9740 0 0 0.9938 1267.21 601.55)" font-size="32" fill="#231f20">0.1</text>
<rect x="295.50" y="169.60" width="151.50" height="127.90" fill="#fff" stroke="#262626" stroke-width="1"/>
<line x1="302" y1="187.80" x2="367.7" y2="187.80" stroke="#0071BA" stroke-width="4.20" fill="none" stroke-linejoin="round"/>
<line x1="302" y1="218.10" x2="367.7" y2="218.10" stroke="#DB5724" stroke-width="4.20" fill="none" stroke-linejoin="round"/>
<line x1="302" y1="248.80" x2="367.7" y2="248.80" stroke="#ECAD26" stroke-width="4.20" fill="none" stroke-dasharray="4.3 4.42" stroke-linejoin="round"/>
<line x1="302" y1="279.20" x2="367.7" y2="279.20" stroke="#742C86" stroke-width="4.20" fill="none" stroke-dasharray="17.5 17.45" stroke-linejoin="round"/>
<path d="M379.40 180.00 V202.90 M379.40 180.00 C378.20 183.60 376.20 186.20 373.20 186.70 M379.40 180.00 C380.60 183.60 382.60 186.20 385.60 186.70 M392.50 180.00 V202.90 M392.50 180.00 C391.30 183.60 389.30 186.20 386.30 186.70 M392.50 180.00 C393.70 183.60 395.70 186.20 398.70 186.70 M379.40 210.70 V233.70 M379.40 233.70 C378.20 230.10 376.20 227.30 373.20 226.70 M379.40 233.70 C380.60 230.10 382.60 227.30 385.60 226.70 M392.50 210.70 V233.70 M392.50 233.70 C391.30 230.10 389.30 227.30 386.30 226.70 M392.50 233.70 C393.70 230.10 395.70 227.30 398.70 226.70 M379.40 239.70 V262.70 M379.40 262.70 C378.20 259.10 376.20 256.30 373.20 255.70 M379.40 262.70 C380.60 259.10 382.60 256.30 385.60 255.70 M392.50 240.00 V262.90 M392.50 240.00 C391.30 243.60 389.30 246.20 386.30 246.70 M392.50 240.00 C393.70 243.60 395.70 246.20 398.70 246.70 M420.80 240.00 V262.90 M420.80 240.00 C419.60 243.60 417.60 246.20 414.60 246.70 M420.80 240.00 C422.00 243.60 424.00 246.20 427.00 246.70 M433.80 239.70 V262.70 M433.80 262.70 C432.60 259.10 430.60 256.30 427.60 255.70 M433.80 262.70 C435.00 259.10 437.00 256.30 440.00 255.70 M400.1 251.7 H412.9 M406.5 245.1 V257.9 M379.40 270.50 V293.40 M379.40 270.50 C378.20 274.10 376.20 276.70 373.20 277.20 M379.40 270.50 C380.60 274.10 382.60 276.70 385.60 277.20 M392.50 270.80 V293.80 M392.50 293.80 C391.30 290.20 389.30 287.40 386.30 286.80 M392.50 293.80 C393.70 290.20 395.70 287.40 398.70 286.80 M414.40 270.80 V293.80 M414.40 293.80 C413.20 290.20 411.20 287.40 408.20 286.80 M414.40 293.80 C415.60 290.20 417.60 287.40 420.60 286.80 M427.40 270.50 V293.40 M427.40 270.50 C426.20 274.10 424.20 276.70 421.20 277.20 M427.40 270.50 C428.60 274.10 430.60 276.70 433.60 277.20" stroke="#231f20" stroke-width="1.35" fill="none"/>
<path d="M400.1 282.9 H406.6" stroke="#231f20" stroke-width="2.0" fill="none"/>
</svg>
</body></html>
